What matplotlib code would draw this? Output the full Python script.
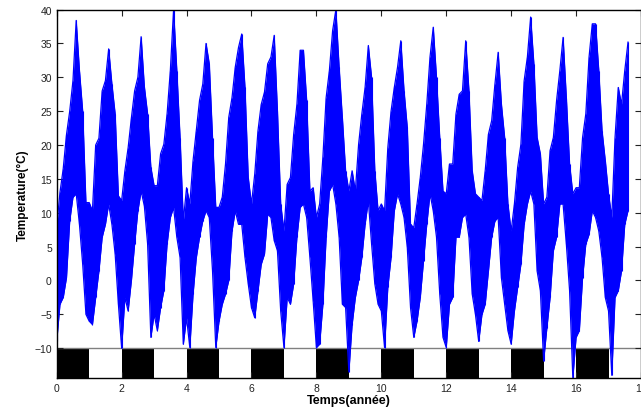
import numpy as np
import matplotlib
matplotlib.use("Agg")
import matplotlib.pyplot as plt
from matplotlib.patches import Rectangle

plt.rcParams['font.family'] = ['Liberation Sans', 'DejaVu Sans']

# sample times (years), one every 0.1 year
t = np.arange(177) / 10.0

# upper envelope of the temperature trace (deg C)
upper = [
    8, 13, 16.5, 21.5, 25, 29.5, 38.4, 31, 25, 11.5,
    11.5, 10.3, 20, 21, 28, 29.5, 34.2, 29, 24.6, 12.5,
    11.8, 16.2, 19.6, 24, 28, 30, 36, 28.6, 24.6, 16.7,
    14, 14, 18.7, 20.1, 24.6, 31, 40, 31, 21.1, 8.8,
    13.7, 11.3, 17.7, 22.1, 26.6, 29, 35, 32, 21.1, 10.8,
    10.8, 12.3, 17.2, 24.1, 27, 31.5, 34.4, 36.4, 28.5, 15.2,
    11.3, 15.7, 22.1, 26, 27.8, 32, 33, 36.2, 25, 11.3,
    7.3, 14.2, 15.2, 21.6, 26, 34, 34, 26.6, 13.2, 13.7,
    9.3, 11.3, 18.2, 27, 31, 36.9, 40, 31.5, 24, 16.2,
    13.2, 16.2, 13.2, 20.1, 24.6, 28.5, 34.7, 30, 16.2, 10.3,
    11.3, 10.3, 19.6, 25, 28.5, 31.5, 35.4, 28, 22.6, 8.3,
    7.8, 11.3, 15.2, 20.1, 26, 33, 37.4, 30, 21.1, 13.2,
    12.8, 17.2, 17.2, 24.6, 27.5, 28, 35.4, 28, 16.2, 12.8,
    12.3, 11.8, 16.2, 21.6, 23.6, 29, 33.7, 26, 21.1, 11.3,
    7.3, 11.3, 16.7, 20.1, 29.5, 33, 38.9, 32, 21.1, 18.7,
    11.3, 12.3, 19.2, 21.1, 26.6, 31, 35.9, 27, 17.2, 12.8,
    13.7, 13.7, 21.1, 24.6, 33, 37.9, 37.9, 31, 22.1, 17.7,
    12.8, 9.3, 21.1, 28.5, 26, 31, 35.2,
]

# lower envelope of the temperature trace (deg C)
lower = [
    -9, -3.5, -2.5, 0.4, 8.8, 12.3, 12.8, 8.3, 2.4, -5,
    -6, -6.5, -2.5, 1.4, 6.4, 8.3, 11.3, 8.3, 3.9, -3.5,
    -10, -2.5, -4.5, 0, 5.4, 10.3, 13.2, 11, 5.4, -8.4,
    -5, -7.4, -4, -1.5, 5.4, 9.3, 10.8, 6.4, 3.4, -9.4,
    -5.5, -9.9, -2, 3.4, 6.4, 8.8, 10.3, 9.3, 1.4, -9.9,
    -6, -3.5, -2, 0, 7.3, 10.3, 8.3, 8.3, 3.4, -0.5,
    -4, -5.5, -1.5, 2.4, 3.9, 9.8, 9.3, 5.9, 4.4, -4.5,
    -9.9, -2.5, -3.5, -0.5, 6.4, 10.8, 11.3, 9.3, 3.4, -3,
    -9.9, -9.4, -3.5, 6.4, 13.2, 14.2, 11.3, 6.4, -3.5, -4,
    -13.5, -6.5, -2.5, 0, 3.4, 8.3, 11.8, 5.4, -0.5, -3.5,
    -4.5, -9.9, -1, 3.4, 10.3, 12.8, 11.3, 9.3, 4.9, -4,
    -8.4, -6, -2.5, 2.9, 8.3, 12.8, 10.3, 6.4, -2, -8.4,
    -9.9, -3.5, -2.5, 6.4, 6.4, 9.3, 9.8, 6.4, -2, -5,
    -9, -5, -3.5, 1.4, 6.4, 8.8, 9.3, 0.4, -3.5, -7.4,
    -9.4, -4.5, -1, 2.4, 8.3, 11.3, 13.2, 11.3, 1.4, -1.5,
    -11.9, -7, -2.5, 4.4, 6.4, 11.3, 11.3, 5.4, -1.5, -14.4,
    -8.4, -7.4, 0.4, 5.4, 6.8, 10.3, 9.3, 7.3, 3.4, -2.5,
    -4.5, -14, -2.5, -1.5, 1.4, 8.3, 10.3,
]

# black blocks of the year strip under the curve
block_starts = [0, 2, 4, 6, 8, 10, 12, 14, 16]

fig = plt.figure(figsize=(6.41, 4.10), dpi=100)
ax = fig.add_axes([0.0885, 0.0756, 0.9115, 0.8985])

ymin = -14.4
for s in block_starts:
    ax.add_patch(Rectangle((s, ymin), 1, -10 - ymin, facecolor='black',
                           edgecolor='none', zorder=1))
ax.axhline(-10, color='#808080', lw=1, zorder=1.5)

ax.fill_between(t, lower, upper, color='#0000ff', lw=0, zorder=2)
ax.plot(t, upper, color='#0000ff', lw=0.9, zorder=2)
ax.plot(t, lower, color='#0000ff', lw=0.9, zorder=2)
ax.vlines(t, lower, upper, color='#0000ff', lw=0.8, zorder=2)

ax.set_xlim(0, 18)
ax.set_ylim(ymin, 40)
ax.set_xticks(np.arange(0, 19, 2))
ax.set_yticks(np.arange(-10, 41, 5))
ax.tick_params(direction='in', top=True, right=True, length=4, width=0.8,
               labelsize=7.5, colors='#222222')
for sp in ax.spines.values():
    sp.set_linewidth(1)

ax.set_xlabel('Temps(année)', fontsize=9, fontweight='bold', labelpad=1)
ax.set_ylabel('Temperature(°C)', fontsize=8.5, fontweight='bold', labelpad=4)

fig.savefig('out.png', dpi=100)
